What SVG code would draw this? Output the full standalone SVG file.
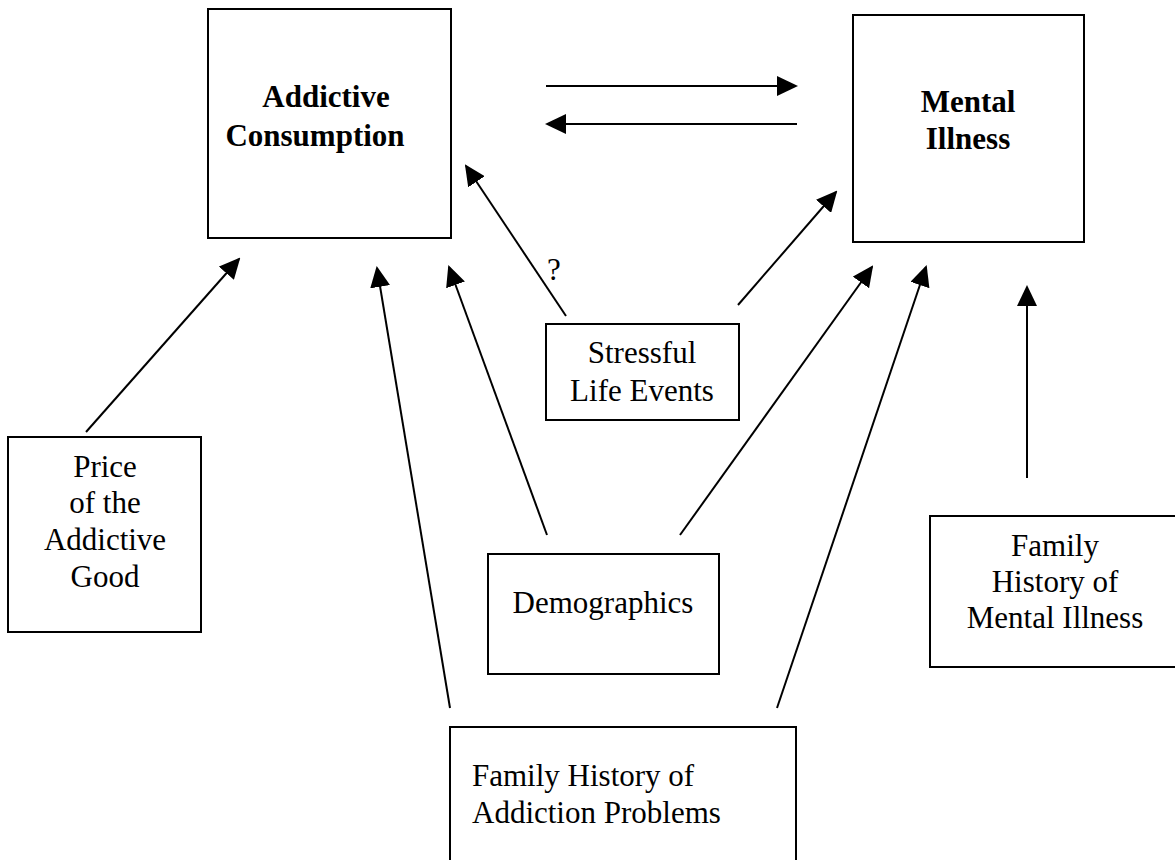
<svg xmlns="http://www.w3.org/2000/svg" width="1175" height="860" viewBox="0 0 1175 860">
<style>
.box{fill:#fff;stroke:#000;stroke-width:2}
text{font-family:'Liberation Serif','Times New Roman',serif;font-size:31px;fill:#000;text-anchor:middle}
.b{font-weight:bold}
.l{text-anchor:start}
.c{stroke:#000;stroke-width:2;fill:none;marker-end:url(#ah)}
</style>
<defs>
<marker id="ah" markerWidth="10.5" markerHeight="10" refX="9.5" refY="5" orient="auto" markerUnits="strokeWidth" viewBox="0 0 10.5 10">
<path d="M0,0 L10.5,5 L0,10 z" fill="#000"/>
</marker>
</defs>
<rect width="1175" height="860" fill="#fff"/>
<g id="addictive-consumption">
<rect class="box" x="208" y="9" width="243" height="229" stroke="#444"/>
<text class="b" x="326" y="107">Addictive</text>
<text class="b" x="315" y="146">Consumption</text>
</g>
<g id="mental-illness">
<rect class="box" x="853" y="15" width="231" height="227"/>
<text class="b" x="968" y="112">Mental</text>
<text class="b" x="968" y="149">Illness</text>
</g>
<g id="price">
<rect class="box" x="8" y="437" width="193" height="195"/>
<text x="105" y="477">Price</text>
<text x="105" y="513">of the</text>
<text x="105" y="550">Addictive</text>
<text x="105" y="587">Good</text>
</g>
<g id="stressful-life-events">
<rect class="box" x="546" y="324" width="193" height="96"/>
<text x="642" y="363">Stressful</text>
<text x="642" y="401">Life Events</text>
</g>
<g id="demographics">
<rect class="box" x="488" y="554" width="231" height="120"/>
<text x="603" y="613">Demographics</text>
</g>
<g id="family-history-addiction">
<rect class="box" x="450" y="727" width="346" height="140"/>
<text class="l" x="472" y="786">Family History of</text>
<text class="l" x="472" y="823">Addiction Problems</text>
</g>
<g id="family-history-mental-illness">
<rect class="box" x="930" y="516" width="252" height="151"/>
<text x="1055" y="556">Family</text>
<text x="1055" y="592">History of</text>
<text x="1055" y="628">Mental Illness</text>
</g>
<g id="connectors">
<line class="c" x1="546" y1="86" x2="796" y2="86"/>
<line class="c" x1="797" y1="124" x2="547" y2="124"/>
<line class="c" x1="86" y1="432" x2="239" y2="259"/>
<line class="c" x1="566" y1="316" x2="466" y2="166"/>
<line class="c" x1="738" y1="305" x2="836" y2="192"/>
<line class="c" x1="547" y1="535" x2="449" y2="267"/>
<line class="c" x1="680" y1="535" x2="872" y2="267"/>
<line class="c" x1="450" y1="708" x2="377" y2="268"/>
<line class="c" x1="777" y1="708" x2="926" y2="267"/>
<line class="c" x1="1027" y1="478" x2="1027" y2="287"/>
<text x="554" y="280">?</text>
</g>
</svg>
